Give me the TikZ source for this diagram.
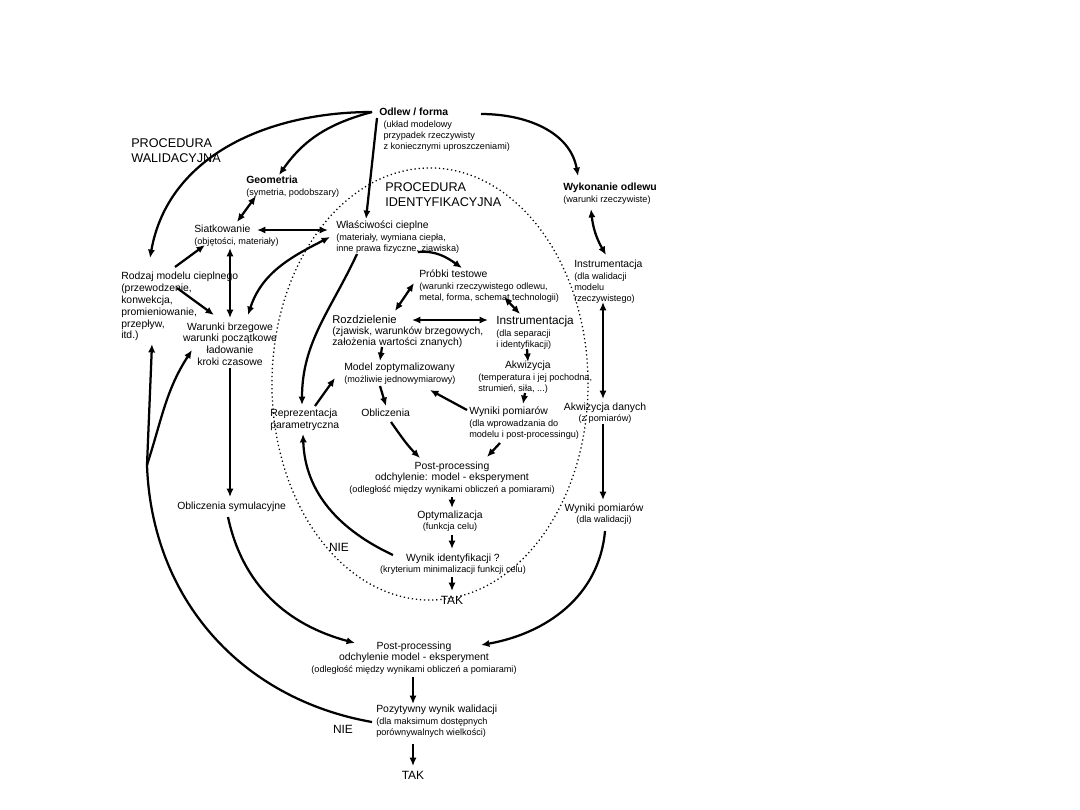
\documentclass[tikz,border=0pt]{standalone}
\usepackage{fontspec}
\setmainfont{Liberation Sans}
\usepackage{tikz}
\usetikzlibrary{arrows.meta}
\newcommand{\mainf}{\fontsize{7.4}{8}\selectfont}
\newcommand{\loosef}{\fontsize{7.4}{8.4}\selectfont}
\newcommand{\subf}{\fontsize{6.5}{7.6}\selectfont}
\newcommand{\headf}{\fontsize{9}{10.7}\selectfont}
\newcommand{\wordf}{\fontsize{8.5}{10}\selectfont}
\tikzset{
  lbl/.style={inner sep=0pt, anchor=north west, align=left, font=\mainf},
  clbl/.style={inner sep=0pt, align=center, font=\mainf},
  headlbl/.style={inner sep=0pt, anchor=north west, align=left, font=\headf},
  wordlbl/.style={inner sep=0pt, font=\wordf},
  flowarrow/.style={-{Latex[length=2.1mm,width=1.8mm]}, line width=1.6pt},
  bothways/.style={{Latex[length=2.1mm,width=1.8mm]}-{Latex[length=2.1mm,width=1.8mm]}, line width=1.6pt},
  backline/.style={line width=1.6pt},
  zone/.style={dotted, line width=0.9pt},
}

\begin{document}
\begin{tikzpicture}[x=0.025cm, y=0.025cm]
  \useasboundingbox (0,0) rectangle (1080,-810);

  % identification zone
  \draw[zone] (430,-384) ellipse [x radius=3.95cm, y radius=5.4cm];

  % labels
  \node[lbl] (odlew) at (379,-108) {\textbf{Odlew / forma}\\\subf\hspace*{3pt}(układ modelowy\\\subf\hspace*{3pt}przypadek rzeczywisty\\\subf\hspace*{3pt}z koniecznymi uproszczeniami)};
  \node[headlbl] (walid) at (131,-138) {PROCEDURA\\WALIDACYJNA};
  \node[lbl] (geom) at (246,-176) {\textbf{Geometria}\\\subf(symetria, podobszary)};
  \node[headlbl] (ident) at (385,-182) {PROCEDURA\\IDENTYFIKACYJNA};
  \node[lbl] (wyk) at (563,-183) {\textbf{Wykonanie odlewu}\\\subf(warunki rzeczywiste)};
  \node[lbl] (siatk) at (194,-225) {Siatkowanie\\\subf(objętości, materiały)};
  \node[lbl] (wlasc) at (336,-221) {Właściwości cieplne\\\subf(materiały, wymiana ciepła,\\\subf inne prawa fizyczne, zjawiska)};
  \node[lbl, font=\loosef] (rodzaj) at (121,-272) {Rodzaj modelu cieplnego\\(przewodzenie,\\konwekcja,\\promieniowanie,\\przepływ,\\itd.)};
  \node[lbl] (instrw) at (574,-260) {Instrumentacja\\\subf(dla walidacji\\\subf modelu\\\subf rzeczywistego)};
  \node[lbl] (probki) at (419,-270) {Próbki testowe\\\subf(warunki rzeczywistego odlewu,\\\subf metal, forma, schemat technologii)};
  \node[clbl, font=\loosef] (warunki) at (230,-344) {Warunki brzegowe\\warunki początkowe\\ładowanie\\kroki czasowe};
  \node[lbl] (rozdz) at (332,-315) {\fontsize{8}{8}\selectfont Rozdzielenie\\(zjawisk, warunków brzegowych,\\założenia wartości znanych)};
  \node[lbl] (instri) at (496,-316) {\fontsize{8.4}{8}\selectfont Instrumentacja\\\subf(dla separacji\\\subf i identyfikacji)};
  \node[lbl] (model) at (344,-363) {Model zoptymalizowany\\\subf(możliwie jednowymiarowy)};
  \node[lbl] (akw) at (478,-361) {\hspace*{19pt}Akwizycja\\\subf(temperatura i jej pochodna,\\\subf strumień, siła, ...)};
  \node[lbl] (repr) at (270,-409) {Reprezentacja\\parametryczna};
  \node[lbl] (oblicz) at (361,-409) {Obliczenia};
  \node[lbl] (wyniki) at (469,-407) {Wyniki pomiarów\\\subf(dla wprowadzania do\\\subf modelu i post-processingu)};
  \node[clbl] (akwd) at (605,-413) {Akwizycja danych\\\subf(z pomiarów)};
  \node[clbl] (post1) at (452,-478) {Post-processing\\odchylenie: model - eksperyment\\\subf(odległość między wynikami obliczeń a pomiarami)};
  \node[lbl] (obsym) at (177,-502) {Obliczenia symulacyjne};
  \node[clbl] (wynwal) at (604,-514) {Wyniki pomiarów\\\subf(dla walidacji)};
  \node[clbl] (optym) at (450,-521) {Optymalizacja\\\subf(funkcja celu)};
  \node[wordlbl] (nie1) at (339,-547) {NIE};
  \node[clbl] (wynid) at (453,-564) {Wynik identyfikacji ?\\\subf(kryterium minimalizacji funkcji celu)};
  \node[wordlbl] (tak1) at (452,-600) {TAK};
  \node[clbl] (post2) at (414,-658) {Post-processing\\odchylenie model - eksperyment\\\subf(odległość między wynikami obliczeń a pomiarami)};
  \node[lbl] (pozyt) at (376,-705) {Pozytywny wynik walidacji\\\subf(dla maksimum dostępnych\\\subf porównywalnych wielkości)};
  \node[wordlbl] (nie2) at (343,-729) {NIE};
  \node[wordlbl] (tak2) at (413,-775) {TAK};

  \coordinate (hub) at ([shift={(-7,-4)}]odlew.north west);
  \coordinate (split) at (147,-465);

  % straight arrows
  \foreach \a/\ax/\ay/\b/\bx/\by in {
      odlew.north west/-2/-10/wlasc.north west/30/2,
      akwd.center/-2/-11/wynwal.center/-1/14,
      rodzaj.north west/54/5/siatk.north west/11/-20,
      rodzaj.north west/56/-16/warunki.center/-16/29,
      warunki.center/0/-24/obsym.north west/53/5,
      rozdz.north west/50/-32/model.north west/36/2,
      instri.north west/31/-33/akw.north west/50/-1,
      repr.north west/45/3/model.north west/-9/-15,
      model.north west/36/-23/oblicz.north west/25/3,
      wyniki.north west/-2/-3/model.north west/86/-27,
      akw.north west/47/-32/wyniki.north west/54/3,
      wyniki.north west/31/-36/post1.center/35/21,
      post1.center/0/-19/optym.center/2/13,
      optym.center/2/-14/wynid.center/-1/15,
      wynid.center/-1/-13/tak1.center/0/9,
      post2.center/-1/-19/pozyt.north west/37/1,
      pozyt.north west/37/-39/tak2.center/0/9,
      split.center/0/0/rodzaj.north west/31/-72}
    \draw[flowarrow] ([shift={(\ax,\ay)}]\a) -- ([shift={(\bx,\by)}]\b);

  % two-way arrows
  \foreach \a/\ax/\ay/\b/\bx/\by in {
      instrw.north west/29/-42/akwd.center/-2/14,
      geom.north west/10/-20/siatk.north west/43/3,
      siatk.north west/63/-5/wlasc.north west/-8/-9,
      siatk.north west/36/-23/warunki.center/0/26,
      probki.north west/85/-27/instri.north west/24/2,
      rozdz.north west/80/-5/instri.north west/-8/-4,
      probki.north west/-5/-13/rozdz.north west/63/4}
    \draw[bothways] ([shift={(\ax,\ay)}]\a) -- ([shift={(\bx,\by)}]\b);

  % curved arrows
  \draw[flowarrow] (hub) to[out=180,in=80] ([shift={(29,14)}]rodzaj.north west);
  \draw[flowarrow] (hub) to[out=195,in=55] ([shift={(33,1)}]geom.north west);
  \draw[flowarrow] ([shift={(102,-6)}]odlew.north west) to[out=0,in=100] ([shift={(15,7)}]wyk.north west);
  \draw[bothways] ([shift={(28,-26)}]wyk.north west) to[bend right=12] ([shift={(32,5)}]instrw.north west);
  \draw[flowarrow] ([shift={(1,-17)}]wynwal.center) to[out=-95,in=10] ([shift={(67,13)}]post2.center);
  \draw[bothways] ([shift={(-6,-16)}]wlasc.north west) to[out=207,in=72] ([shift={(18,29)}]warunki.center);
  \draw[flowarrow] ([shift={(51,-15)}]obsym.north west) to[out=-78,in=165] ([shift={(-59,15)}]post2.center);
  \draw[backline] ([shift={(-4,-17)}]pozyt.north west) to[out=170,in=-88] (split);
  \draw[flowarrow] (split) to[out=72,in=237] ([shift={(-38,-6)}]warunki.center);
  \draw[flowarrow] ([shift={(82,-31)}]wlasc.north west) to[out=5,in=145] ([shift={(43,2)}]probki.north west);
  \draw[flowarrow] ([shift={(21,-33)}]wlasc.north west) to[out=245,in=90] ([shift={(32,4)}]repr.north west);
  \draw[flowarrow] ([shift={(30,-13)}]oblicz.north west) to[out=-55,in=135] ([shift={(-32,20)}]post1.center);
  \draw[flowarrow] ([shift={(-60,9)}]wynid.center) to[out=155,in=-88] ([shift={(33,-25)}]repr.north west);
\end{tikzpicture}
\end{document}
